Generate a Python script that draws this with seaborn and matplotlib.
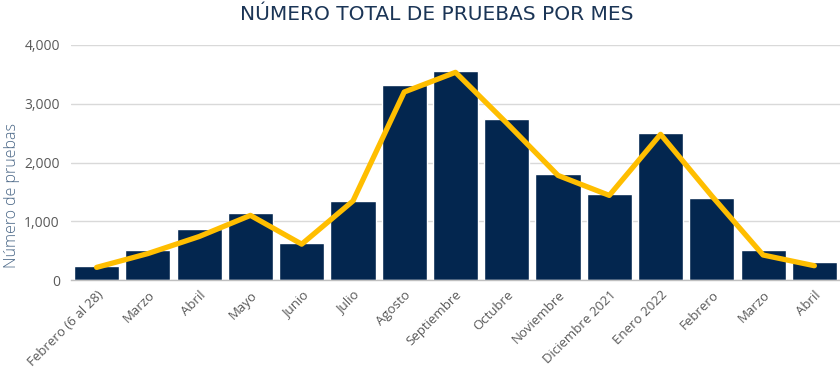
import numpy as np
import pandas as pd
import matplotlib
matplotlib.use("Agg")
import matplotlib.pyplot as plt
import seaborn as sns

months = ["Febrero (6 al 28)", "Marzo", "Abril", "Mayo", "Junio", "Julio", "Agosto",
          "Septiembre", "Octubre", "Noviembre", "Diciembre 2021", "Enero 2022",
          "Febrero", "Marzo", "Abril"]
bar_values = [235, 510, 870, 1135, 625, 1340, 3320, 3550, 2735, 1800, 1470, 2495, 1390, 505, 310]
line_values = [215, 450, 740, 1100, 610, 1345, 3200, 3535, 2670, 1780, 1440, 2480, 1430, 425, 243]
y_ticks = [0, 1000, 2000, 3000, 4000]

sns.set_theme(style="white")
plt.rcParams["font.family"] = ["Open Sans", "DejaVu Sans"]

pos = np.arange(len(months))
df = pd.DataFrame({"pos": pos, "bars": bar_values, "line": line_values})

fig = plt.figure(figsize=(8.4, 3.78), dpi=100)
ax = fig.add_axes([71 / 840, 98 / 378, 769 / 840, 235 / 378])

sns.barplot(data=df, x="pos", y="bars", color="#03264F", width=0.88,
            saturation=1, ax=ax, zorder=2)
sns.lineplot(data=df, x="pos", y="line", color="#FFBE00", linewidth=3.8,
             ax=ax, zorder=3)

ax.set_xlim(-0.5, len(months) - 0.5)
ax.set_ylim(0, 4000)
ax.set_yticks(y_ticks)
ax.set_yticklabels([f"{v:,}" for v in y_ticks], color="#595959", fontsize=10)
ax.set_xticks(pos)
ax.set_xticklabels(months, rotation=45, ha="right", rotation_mode="anchor",
                   color="#595959", fontsize=9.5)
ax.tick_params(axis="both", length=0)
ax.tick_params(axis="y", pad=8)
ax.tick_params(axis="x", pad=6)
ax.yaxis.grid(True, color="#D9D9D9", linewidth=1)
ax.set_axisbelow(True)
for s in ["top", "right", "left"]:
    ax.spines[s].set_visible(False)
ax.spines["bottom"].set_color("#BFBFBF")
ax.spines["bottom"].set_linewidth(1)
ax.set_xlabel("")
ax.set_ylabel("")

fig.text(12 / 840, 1 - 196 / 378, "Número de pruebas", rotation=90, ha="center",
         va="center", color="#4A6787", fontsize=11.5, fontweight="light")
fig.text(437 / 840, 1 - 15 / 378, "NÚMERO TOTAL DE PRUEBAS POR MES", ha="center",
         va="center", color="#1B3556", fontsize=14.5, family=["DejaVu Sans"])

fig.savefig("out.png", dpi=100)
